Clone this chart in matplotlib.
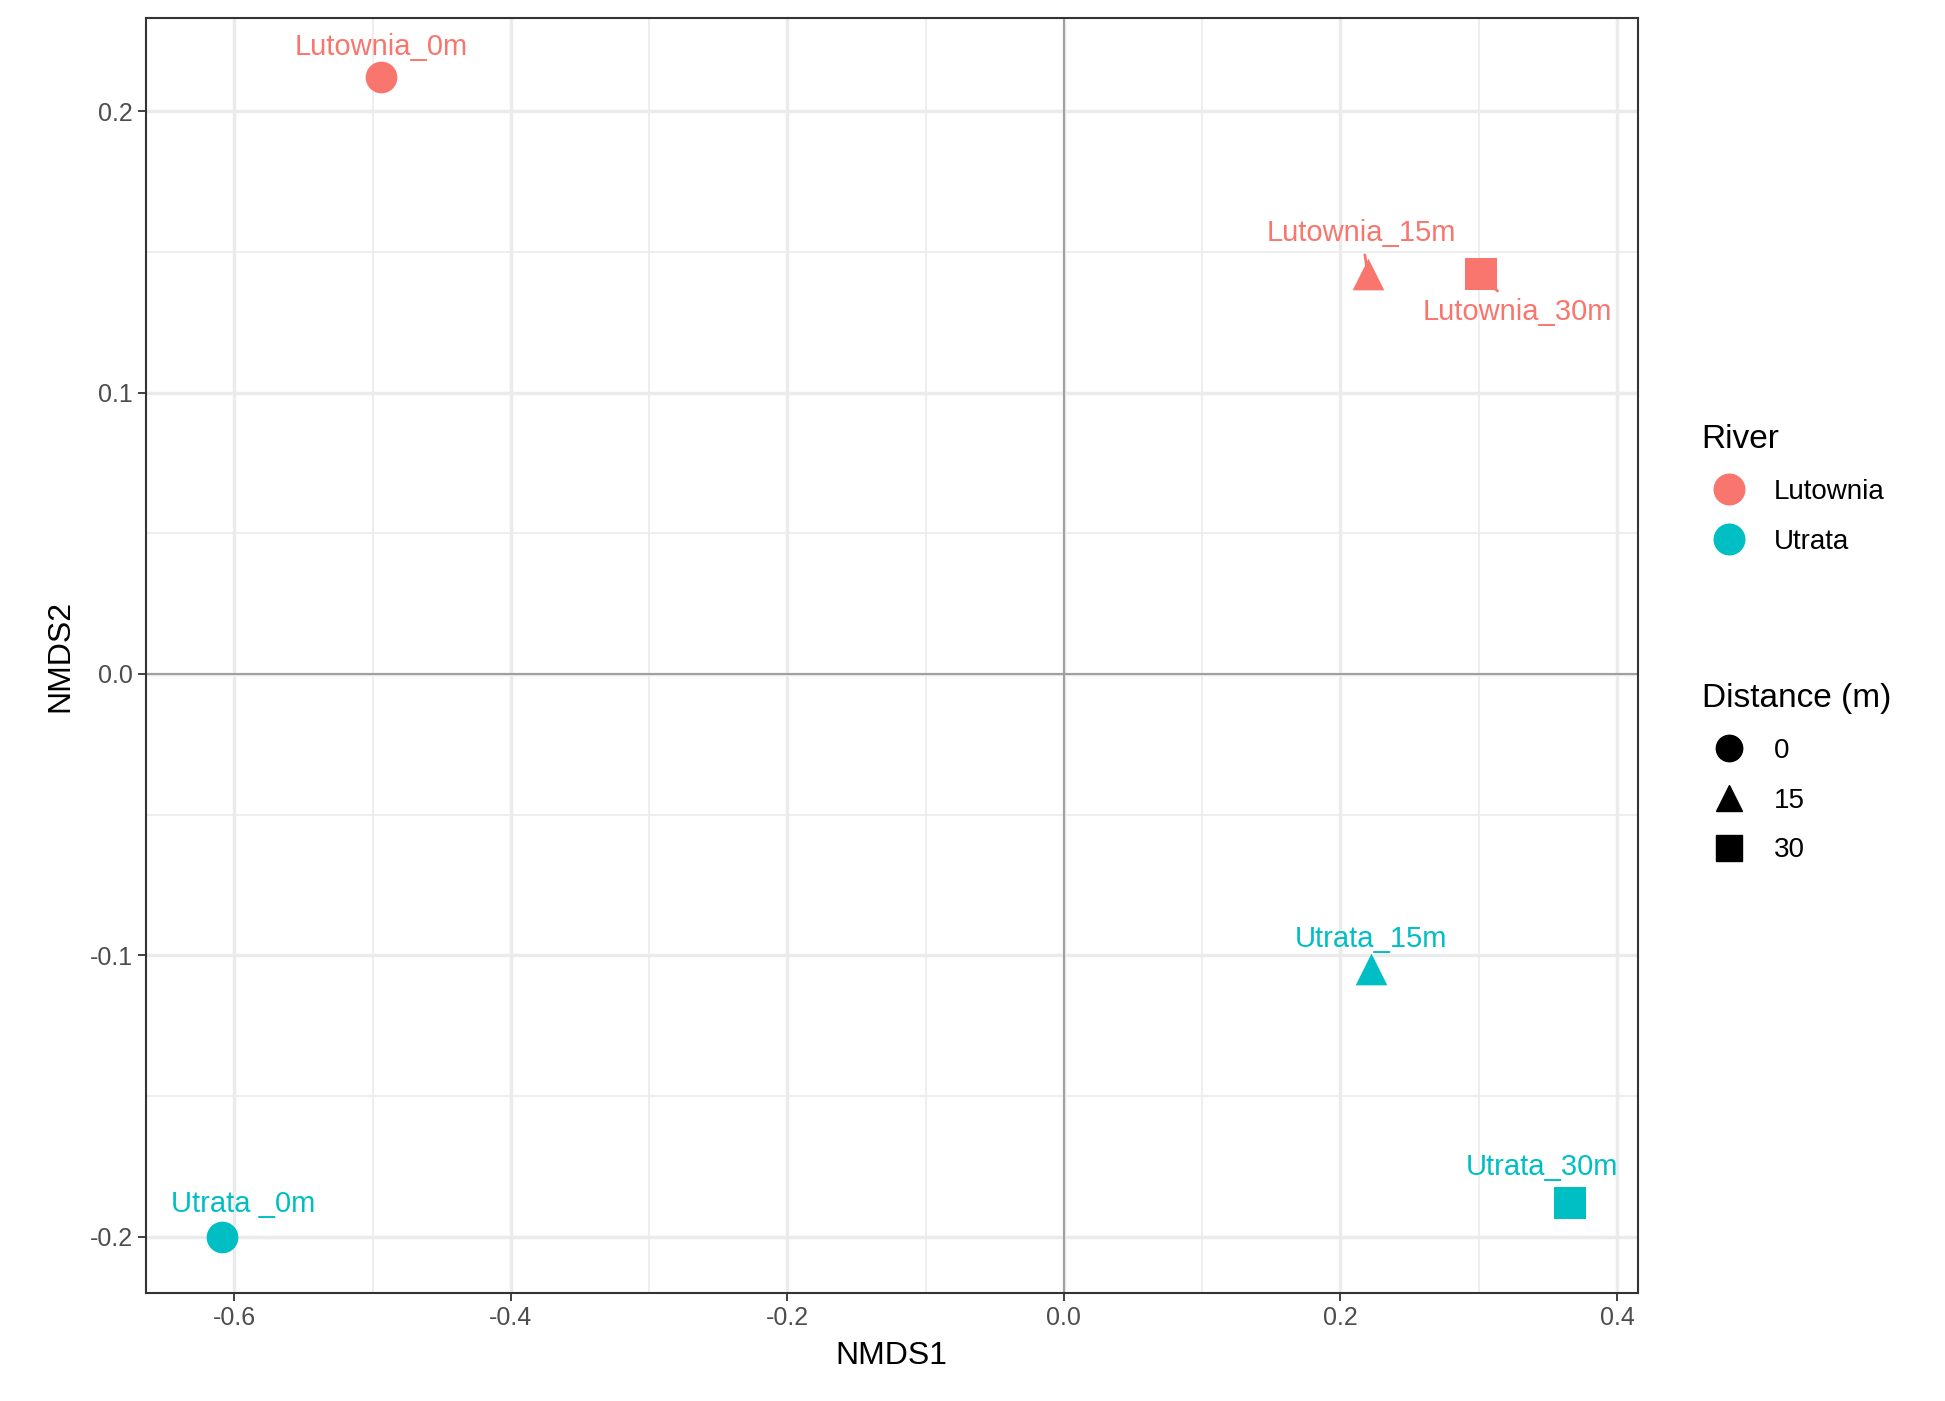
import matplotlib.pyplot as plt
from matplotlib.lines import Line2D

plt.rcParams['font.family'] = ['Liberation Sans', 'DejaVu Sans']
plt.rcParams['axes.unicode_minus'] = False

sites = ['Lutownia_0m', 'Lutownia_15m', 'Lutownia_30m', 'Utrata _0m', 'Utrata_15m', 'Utrata_30m']
river = ['Lutownia', 'Lutownia', 'Lutownia', 'Utrata', 'Utrata', 'Utrata']
distance = [0, 15, 30, 0, 15, 30]
nmds1 = [-0.494, 0.220, 0.302, -0.609, 0.222, 0.366]
nmds2 = [0.212, 0.142, 0.142, -0.200, -0.105, -0.188]
# label offsets in points (dx, dy) and whether a leader line is drawn
label_off = [(0, 22), (-5, 30), (26, -27), (15, 24), (0, 22), (-20, 26)]
leader = [False, True, True, False, False, False]

colors = {'Lutownia': '#F8766D', 'Utrata': '#00BFC4'}
markers = {0: 'o', 15: '^', 30: 's'}

fig = plt.figure(figsize=(19.45, 14.01), dpi=100)
ax = fig.add_axes([0.075, 0.077, 0.767, 0.91])
ax.set_xlim(-0.664, 0.415)
ax.set_ylim(-0.220, 0.233)
ax.set_xticks([-0.6, -0.4, -0.2, 0.0, 0.2, 0.4])
ax.set_yticks([-0.2, -0.1, 0.0, 0.1, 0.2])
ax.set_xticks([-0.5, -0.3, -0.1, 0.1, 0.3], minor=True)
ax.set_yticks([-0.15, -0.05, 0.05, 0.15], minor=True)
ax.grid(True, which='major', color='#EBEBEB', lw=2.5)
ax.grid(True, which='minor', color='#EBEBEB', lw=1.2)
ax.set_axisbelow(True)
ax.tick_params(which='minor', length=0)
ax.tick_params(which='major', length=6, width=1.3, color='#333333', labelsize=18, labelcolor='#4D4D4D')
for s in ax.spines.values():
    s.set_color('#333333')
    s.set_linewidth(1.5)
ax.axhline(0, color='#A0A0A0', lw=1.5, zorder=1)
ax.axvline(0, color='#A0A0A0', lw=1.5, zorder=1)

for i in range(len(sites)):
    c = colors[river[i]]
    ax.scatter(nmds1[i], nmds2[i], s=520, marker=markers[distance[i]], color=c, zorder=3, linewidths=0)
    ax.annotate(sites[i], (nmds1[i], nmds2[i]), xytext=label_off[i], textcoords='offset points',
                ha='center', va='center', color=c, fontsize=21,
                arrowprops=dict(arrowstyle='-', color=c, lw=2, shrinkA=4, shrinkB=6) if leader[i] else None)

ax.set_xlabel('NMDS1', fontsize=23, labelpad=8)
ax.set_ylabel('NMDS2', fontsize=23, labelpad=10)

h1 = [Line2D([], [], ls='', marker='o', ms=22, color=colors[r]) for r in colors]
leg1 = fig.legend(h1, list(colors), title='River', loc='upper left', bbox_to_anchor=(0.862, 0.715),
                  frameon=False, fontsize=20, title_fontsize=24, labelspacing=0.85, handletextpad=0.6)
leg1._legend_box.align = 'left'
h2 = [Line2D([], [], ls='', marker=markers[d], ms=19, color='black') for d in markers]
leg2 = fig.legend(h2, [str(d) for d in markers], title='Distance (m)', loc='upper left',
                  bbox_to_anchor=(0.862, 0.53), frameon=False, fontsize=20, title_fontsize=24,
                  labelspacing=0.85, handletextpad=0.6)
leg2._legend_box.align = 'left'

fig.savefig('out.png', dpi=100)
